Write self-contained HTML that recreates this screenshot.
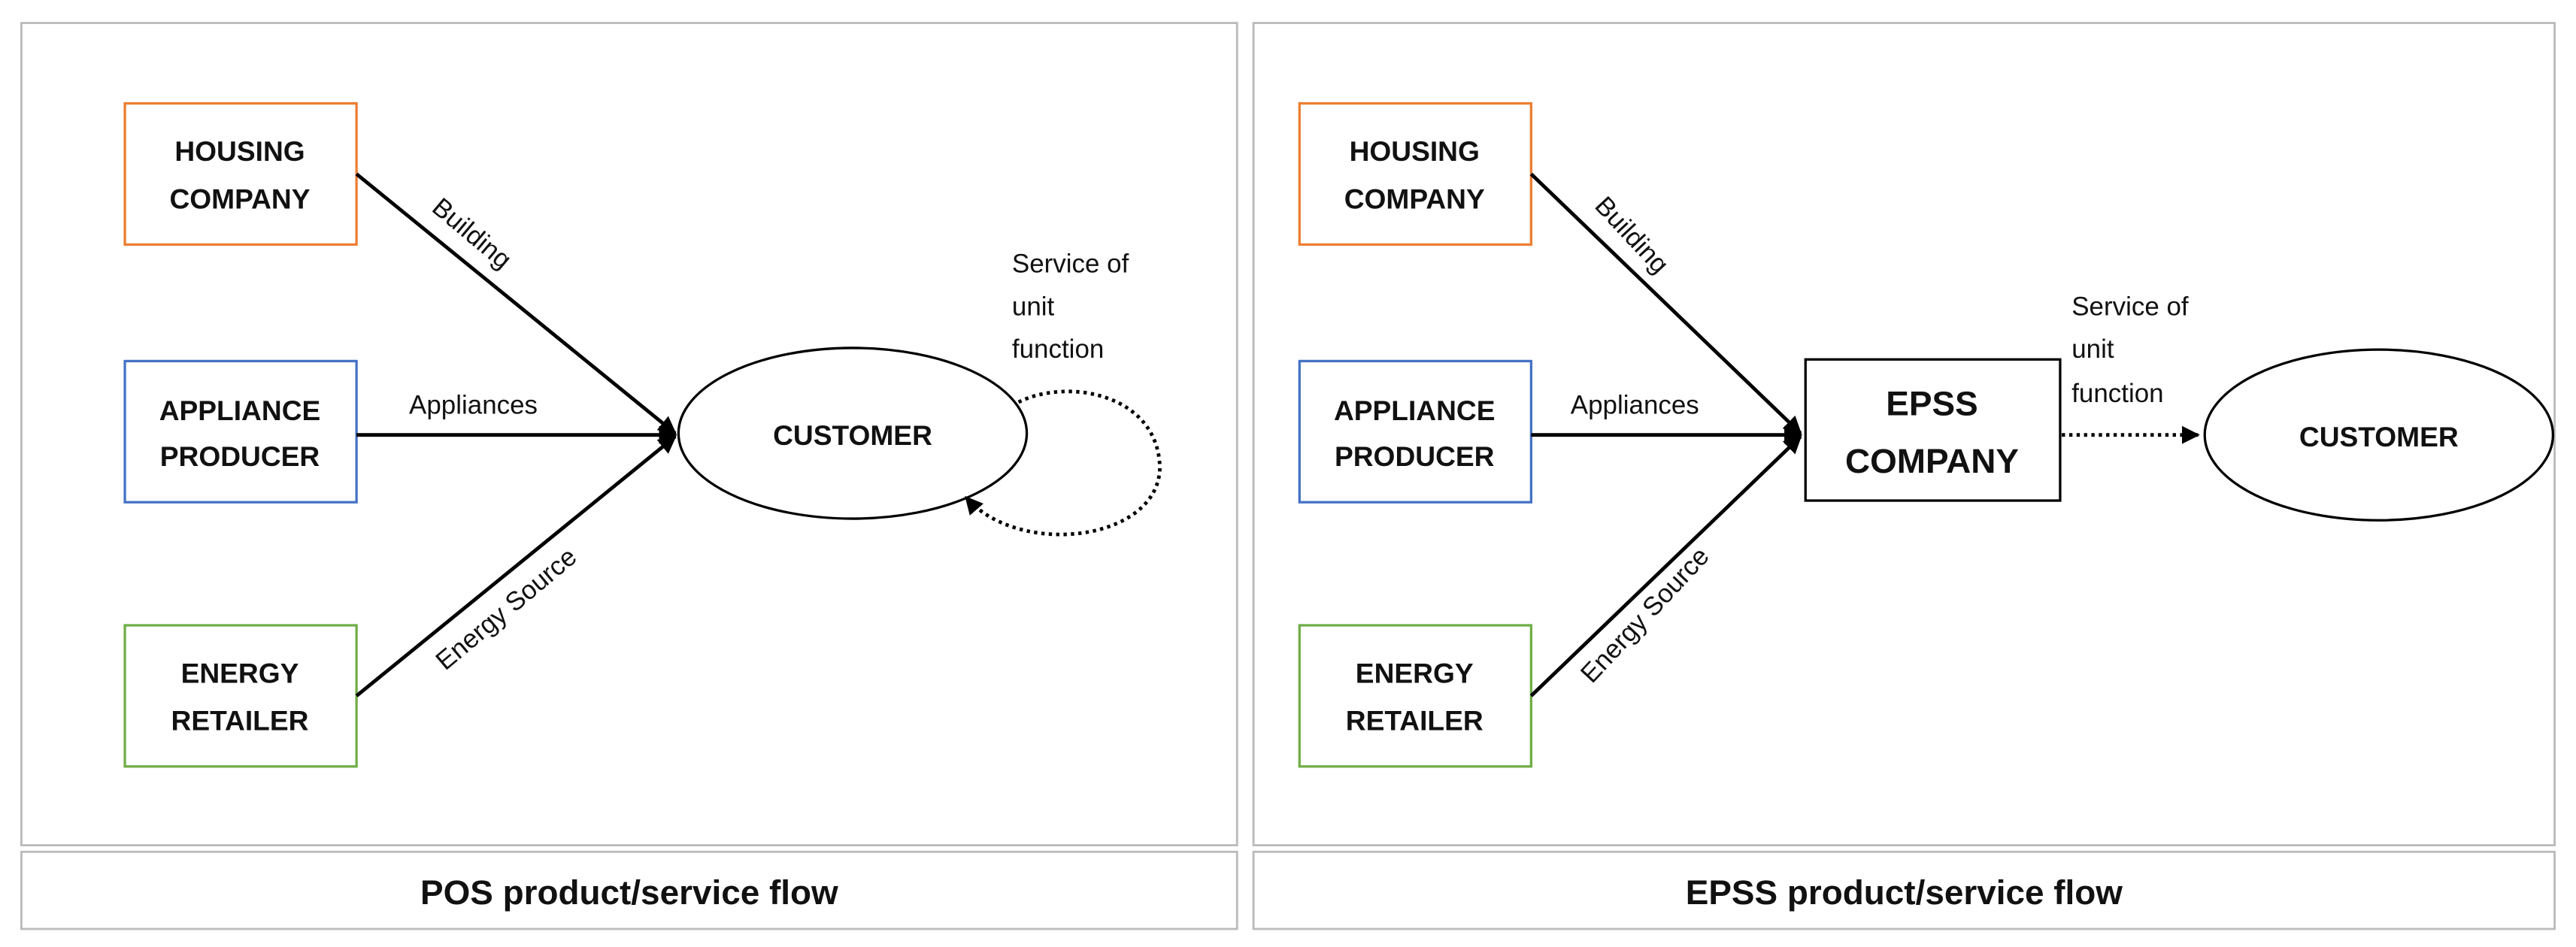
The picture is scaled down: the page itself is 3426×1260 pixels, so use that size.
<!DOCTYPE html>
<html><head><meta charset="utf-8"><style>
html,body{margin:0;padding:0;background:#fff;}
svg{display:block;}
text{font-family:"Liberation Sans",sans-serif;fill:#111;}
.b{font-weight:bold;font-size:17px;text-anchor:middle;}
.l{font-size:16px;}
</style></head><body>
<svg width="3426" height="1260" viewBox="0 0 1568 577" preserveAspectRatio="none" xmlns="http://www.w3.org/2000/svg">
<defs>
<marker id="a" viewBox="0 0 10 10" refX="9" refY="5" markerWidth="5" markerHeight="5" orient="auto"><path d="M0,0L10,5L0,10z" fill="#000"/></marker>
</defs>
<g fill="none" stroke="#bbb" stroke-width="1.3">
<rect x="13" y="14" width="740" height="501"/>
<rect x="13" y="519" width="740" height="47"/>
<rect x="763" y="14" width="792" height="501"/>
<rect x="763" y="519" width="792" height="47"/>
</g>
<text x="383" y="551" class="b" style="font-size:21px">POS product/service flow</text>
<text x="1159" y="551" class="b" style="font-size:21px">EPSS product/service flow</text>

<!-- left -->
<g stroke-width="1.5" fill="#fff">
<rect x="76" y="63" width="141" height="86" stroke="#ED7D31"/>
<rect x="76" y="220" width="141" height="86" stroke="#4472C4"/>
<rect x="76" y="381" width="141" height="86" stroke="#70AD47"/>
<rect x="791" y="63" width="141" height="86" stroke="#ED7D31"/>
<rect x="791" y="220" width="141" height="86" stroke="#4472C4"/>
<rect x="791" y="381" width="141" height="86" stroke="#70AD47"/>
<rect x="1099" y="219" width="155" height="86" stroke="#000"/>
<ellipse cx="519" cy="264" rx="106" ry="52" stroke="#000"/>
<ellipse cx="1448" cy="265" rx="106" ry="52" stroke="#000"/>
</g>
<g class="b">
<text x="146" y="98" class="b">HOUSING</text><text x="146" y="127" class="b">COMPANY</text>
<text x="146" y="256" class="b">APPLIANCE</text><text x="146" y="284" class="b">PRODUCER</text>
<text x="146" y="416" class="b">ENERGY</text><text x="146" y="445" class="b">RETAILER</text>
<text x="861" y="98" class="b">HOUSING</text><text x="861" y="127" class="b">COMPANY</text>
<text x="861" y="256" class="b">APPLIANCE</text><text x="861" y="284" class="b">PRODUCER</text>
<text x="861" y="416" class="b">ENERGY</text><text x="861" y="445" class="b">RETAILER</text>
<text x="519" y="271" class="b">CUSTOMER</text>
<text x="1448" y="272" class="b">CUSTOMER</text>
<text x="1176" y="253" class="b" style="font-size:21px">EPSS</text>
<text x="1176" y="288" class="b" style="font-size:21px">COMPANY</text>
</g>
<g stroke="#000" stroke-width="2.2" fill="none">
<line x1="217" y1="106" x2="411" y2="264" marker-end="url(#a)"/>
<line x1="217" y1="265" x2="411" y2="265" marker-end="url(#a)"/>
<line x1="217" y1="424" x2="411" y2="266" marker-end="url(#a)"/>
<line x1="932" y1="106" x2="1096" y2="264" marker-end="url(#a)"/>
<line x1="932" y1="265" x2="1096" y2="265" marker-end="url(#a)"/>
<line x1="932" y1="424" x2="1096" y2="266" marker-end="url(#a)"/>
<path d="M620,245 C650,230 705,240 706,285 C705,330 620,340 588,303" stroke-dasharray="2,2.5" marker-end="url(#a)"/>
<line x1="1255" y1="265" x2="1338" y2="265" stroke-dasharray="2,2.5" marker-end="url(#a)"/>
</g>
<text class="l" x="249" y="252">Appliances</text>
<text class="l" x="956" y="252">Appliances</text>
<text class="l" transform="translate(262,128) rotate(40)">Building</text>
<text class="l" transform="translate(970,126) rotate(47)">Building</text>
<text class="l" transform="translate(271,409) rotate(-40)">Energy Source</text>
<text class="l" transform="translate(969,417) rotate(-47)">Energy Source</text>
<text class="l" x="616" y="166">Service of</text><text class="l" x="616" y="192">unit</text><text class="l" x="616" y="218">function</text>
<text class="l" x="1261" y="192">Service of</text><text class="l" x="1261" y="218">unit</text><text class="l" x="1261" y="245">function</text>
</svg>
</body></html>
